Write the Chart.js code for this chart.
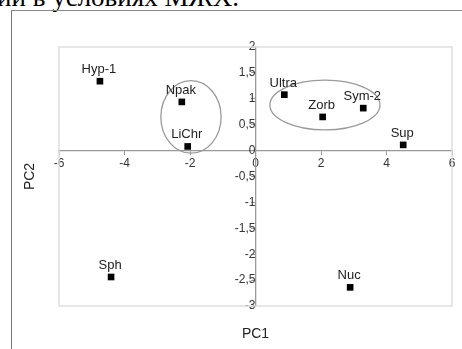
<!DOCTYPE html>
<html>
<head>
<meta charset="utf-8">
<script src="https://cdn.jsdelivr.net/npm/chart.js@4.4.1/dist/chart.umd.min.js"></script>
<style>
  html, body { margin: 0; padding: 0; background: #fff; }
  #wrap { position: relative; width: 462px; height: 349px; overflow: hidden; }
  #caption { position: absolute; left: -3px; top: -16px; font: 27px/26px "Liberation Serif", "Times New Roman", serif; color: #000; white-space: nowrap; }
  #frame { position: absolute; left: 11px; top: 10px; width: 451px; height: 340px; border-left: 1.5px solid #777; border-top: 1.5px solid #888; box-sizing: border-box; }
  #c { position: absolute; left: 0; top: 0; }
</style>
</head>
<body>
<div id="wrap">
  <div id="caption">ии в условиях МЖХ.</div>
  <div id="frame"></div>
  <canvas id="c" width="462" height="349"></canvas>
</div>
<script>
// Sorbent names and their principal component scores
const names = ['Hyp-1', 'Npak', 'LiChr', 'Ultra', 'Zorb', 'Sym-2', 'Sup', 'Sph', 'Nuc'];
const pc1 = [-4.75, -2.25, -2.07, 0.88, 2.05, 3.29, 4.51, -4.41, 2.89];
const pc2 = [1.34, 0.94, 0.08, 1.08, 0.65, 0.82, 0.11, -2.44, -2.64];

// Grouping ellipses: centre and semi-axes in PC units
const ellipseCx = [-1.97, 2.12];
const ellipseCy = [0.65, 0.88];
const ellipseRx = [0.92, 1.68];
const ellipseRy = [0.70, 0.48];

// Axis ranges and tick steps
const xRange = [-6, 6];
const yRange = [-3, 2];
const xStep = 2;
const yStep = 0.5;

const points = pc1.map((v, i) => ({ x: v, y: pc2[i] }));
const fmt = v => String(Math.round(v * 100) / 100).replace('.', ',');

const plotFrame = {
  id: 'plotFrame',
  beforeDatasetsDraw(chart) {
    const { ctx, chartArea: a } = chart;
    ctx.save();
    ctx.strokeStyle = '#dedede';
    ctx.lineWidth = 1.5;
    ctx.strokeRect(a.left, a.top, a.right - a.left, a.bottom - a.top);
    ctx.restore();
  }
};

const groupEllipses = {
  id: 'groupEllipses',
  afterDatasetsDraw(chart) {
    const { ctx, scales: { x, y } } = chart;
    ctx.save();
    ctx.strokeStyle = '#9a9a9a';
    ctx.lineWidth = 1.3;
    ellipseCx.forEach((cx, i) => {
      const px = x.getPixelForValue(cx);
      const py = y.getPixelForValue(ellipseCy[i]);
      const rx = Math.abs(x.getPixelForValue(cx + ellipseRx[i]) - px);
      const ry = Math.abs(y.getPixelForValue(ellipseCy[i] + ellipseRy[i]) - py);
      ctx.beginPath();
      ctx.ellipse(px, py, rx, ry, 0, 0, Math.PI * 2);
      ctx.stroke();
    });
    ctx.restore();
  }
};

const pointLabels = {
  id: 'pointLabels',
  afterDatasetsDraw(chart) {
    const { ctx } = chart;
    const meta = chart.getDatasetMeta(0);
    ctx.save();
    ctx.font = '13px "Liberation Sans", Arial, sans-serif';
    ctx.fillStyle = '#222';
    ctx.textAlign = 'center';
    ctx.textBaseline = 'alphabetic';
    meta.data.forEach((el, i) => {
      ctx.fillText(names[i], el.x - 1, el.y - 8);
    });
    ctx.restore();
  }
};

const axisTitles = {
  id: 'axisTitles',
  afterDraw(chart) {
    const { ctx, chartArea: a } = chart;
    ctx.save();
    ctx.font = '14px "Liberation Sans", Arial, sans-serif';
    ctx.fillStyle = '#222';
    ctx.textAlign = 'center';
    ctx.textBaseline = 'middle';
    ctx.fillText('PC1', (a.left + a.right) / 2, 334);
    ctx.translate(30, (a.top + a.bottom) / 2);
    ctx.rotate(-Math.PI / 2);
    ctx.fillText('PC2', 0, 0);
    ctx.restore();
  }
};

new Chart(document.getElementById('c'), {
  type: 'scatter',
  data: {
    datasets: [{
      data: points,
      pointStyle: 'rect',
      pointRadius: 4.7,
      pointHoverRadius: 4.7,
      backgroundColor: '#000',
      borderColor: '#000',
      borderWidth: 0
    }]
  },
  options: {
    responsive: false,
    animation: false,
    events: [],
    layout: { padding: { left: 59, right: 10, top: 47, bottom: 43 } },
    plugins: { legend: { display: false }, tooltip: { enabled: false } },
    scales: {
      x: {
        type: 'linear',
        min: xRange[0], max: xRange[1],
        position: { y: 0 },
        grid: { drawOnChartArea: false, drawTicks: true, tickLength: 4, color: '#999' },
        border: { display: true, color: '#999', width: 1.3 },
        ticks: { stepSize: xStep, callback: fmt, color: '#333', padding: 2,
                 font: { family: '"Liberation Sans", Arial, sans-serif', size: 12 } }
      },
      y: {
        type: 'linear',
        min: yRange[0], max: yRange[1],
        position: { x: 0 },
        grid: { drawOnChartArea: false, drawTicks: true, tickLength: 4, color: '#999' },
        border: { display: true, color: '#999', width: 1.3 },
        ticks: { stepSize: yStep, callback: fmt, color: '#333', padding: 2,
                 font: { family: '"Liberation Sans", Arial, sans-serif', size: 12 } }
      }
    }
  },
  plugins: [plotFrame, groupEllipses, pointLabels, axisTitles]
});
</script>
</body>
</html>
